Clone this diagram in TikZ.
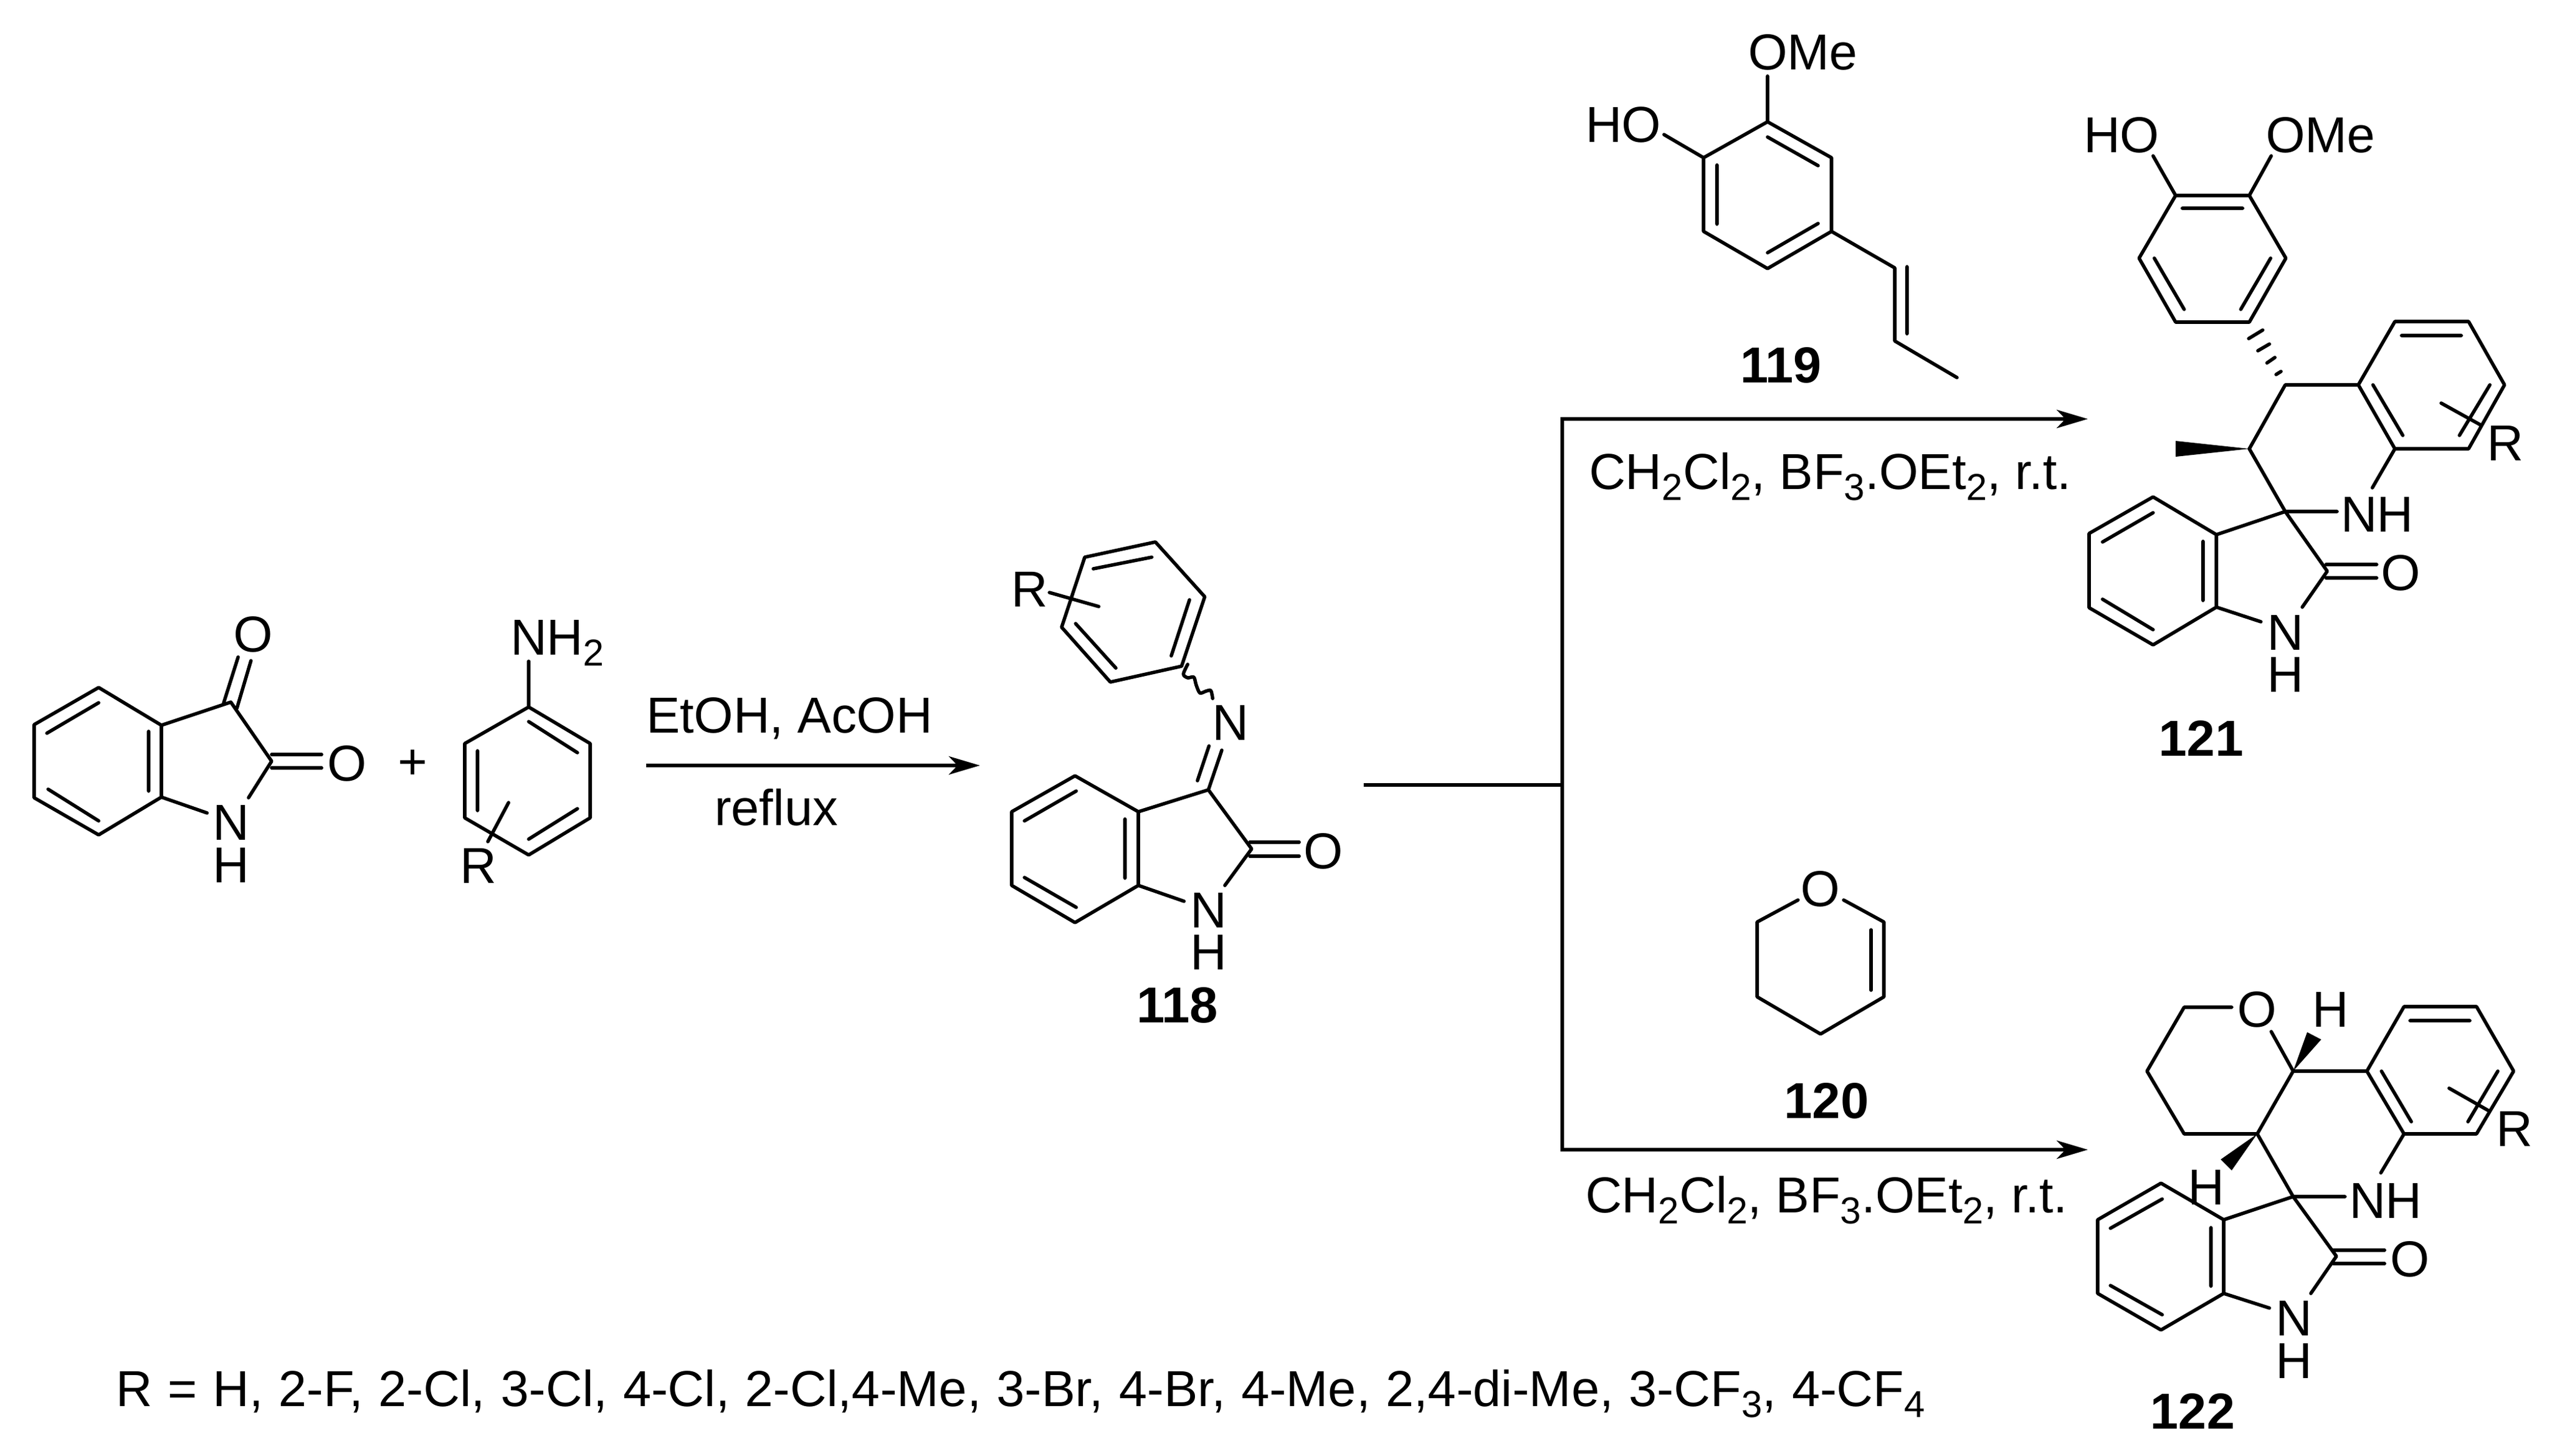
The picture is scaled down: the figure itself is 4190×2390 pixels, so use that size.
\documentclass[tikz,border=0pt]{standalone}
\usepackage{fontspec}
\setmainfont{Liberation Sans}
\usetikzlibrary{arrows.meta}
\newcommand{\chsub}[1]{\raisebox{-5.3pt}{\fontsize{17.5}{20}\selectfont #1}}
\tikzset{
  bond/.style={line width=1.6pt,line cap=round,line join=round},
  rxnline/.style={line width=1.9pt},
  rxnarrow/.style={line width=1.9pt,-{Stealth[length=14.5pt,width=8.5pt,inset=4pt]}},
  atom/.style={inner sep=0pt,outer sep=0pt,font=\fontsize{23.6}{28}\selectfont},
  txt/.style={atom,anchor=base west},
  cmpd/.style={inner sep=0pt,outer sep=0pt,font=\fontsize{23.6}{28}\selectfont\bfseries},
  wedge/.style={fill=black,draw=none}
}
\begin{document}
\begin{tikzpicture}[x=0.01cm,y=-0.01cm]
\useasboundingbox (0,0) rectangle (4190,2390);
% --- isatin
\draw[bond] (162,1129)--(56,1190)--(56,1310)--(162,1371)--(265,1309)--(265,1191)--cycle;
\draw[bond] (265,1191)--(379,1153)--(446,1250)--(408,1310);
\draw[bond] (265,1309)--(340,1335);
\draw[bond] (244,1201)--(244,1299) (77,1204)--(162,1154) (79,1296)--(162,1348);
\draw[bond] (367,1155)--(391,1079) (389,1163)--(412,1085);
\draw[bond] (446,1239)--(528,1239) (446,1261)--(528,1261);
\node[atom] (isO1) at (416,1042) {O};
\node[atom] (isO2) at (570,1254) {O};
\node[atom] (isN) at (379,1351) {N};
\node[atom] (isH) at (379,1421) {H};
\node[atom] (plus) at (678,1256) {+};
% --- aniline
\draw[bond] (868,1161)--(969,1221)--(969,1343)--(868,1404)--(763,1343)--(763,1221)--cycle;
\draw[bond] (868,1086)--(868,1161);
\draw[bond] (868,1185)--(948,1236) (784,1233)--(784,1331) (868,1378)--(948,1328);
\draw[bond] (835,1318)--(801,1382);
\node[txt] (anNH) at (838,1075) {NH\chsub{2}};
\node[txt] (anR) at (755,1450) {R};
% --- first arrow
\coordinate (a1s) at (1061,1257);
\coordinate (a1e) at (1609,1257);
\draw[rxnarrow] (a1s)--(a1e);
\node[txt] (etoh) at (1061,1203) {EtOH, AcOH};
\node[txt] (reflux) at (1173,1355) {reflux};
% --- 118
\draw[bond] (1897,890)--(1978,980)--(1940,1094)--(1823,1120)--(1743,1030)--(1781,915)--cycle;
\draw[bond] (1795,934)--(1891,915) (1953,985)--(1923,1077) (1832,1097)--(1766,1024);
\draw[bond] (1723,973)--(1804,996);
\draw[bond] plot[smooth] coordinates {(1950,1091) (1943,1107) (1950,1113) (1960,1112) (1964,1125) (1970,1138) (1980,1135) (1988,1134) (1991,1147)};
\draw[bond] (2006,1232)--(1984,1297) (1985,1225)--(1966,1282);
\draw[bond] (1765,1274)--(1661,1333)--(1661,1454)--(1765,1515)--(1869,1454)--(1869,1333)--cycle;
\draw[bond] (1869,1333)--(1984,1297)--(2055,1394)--(2011,1454);
\draw[bond] (1869,1454)--(1944,1480);
\draw[bond] (1847,1345)--(1847,1442) (1682,1348)--(1767,1299) (1682,1441)--(1767,1490);
\draw[bond] (2052,1383)--(2133,1383) (2052,1406)--(2133,1406);
\node[atom] (iR) at (1690,968) {R};
\node[atom] (iNi) at (2020,1187) {N};
\node[atom] (iO) at (2173,1398) {O};
\node[atom] (iN) at (1984,1495) {N};
\node[atom] (iH) at (1984,1564) {H};
\node[cmpd] (c118) at (1933,1651) {118};
% --- branch arrows
\coordinate (bs) at (2239,1289);
\coordinate (bj) at (2565,1289);
\coordinate (bt) at (2565,688);
\coordinate (bb) at (2565,1888);
\coordinate (bte) at (3428,688);
\coordinate (bbe) at (3428,1888);
\draw[rxnline] (bs)--(bj);
\draw[rxnarrow] (bj)--(bt)--(bte);
\draw[rxnarrow] (bj)--(bb)--(bbe);
\node[txt] (cond1) at (2609,803) {CH\chsub{2}Cl\chsub{2}, BF\chsub{3}.OEt\chsub{2}, r.t.};
\node[txt] (cond2) at (2603,1991) {CH\chsub{2}Cl\chsub{2}, BF\chsub{3}.OEt\chsub{2}, r.t.};
% --- 119
\draw[bond] (2902,200)--(3007,259)--(3007,380)--(2902,441)--(2797,380)--(2797,259)--cycle;
\draw[bond] (2902,125)--(2902,200) (2732,221)--(2797,259);
\draw[bond] (2902,225)--(2985,272) (2819,271)--(2819,368) (2902,415)--(2985,367);
\draw[bond] (3007,380)--(3111,440)--(3111,560)--(3213,620) (3131,438)--(3131,548);
\node[txt] (vOMe) at (2870,114) {OMe};
\node[txt] (vHO) at (2603,233) {HO};
\node[cmpd] (c119) at (2924,600) {119};
% --- 120
\draw[bond] (2952,1478)--(2885,1514)--(2885,1637)--(2989,1698)--(3093,1637)--(3093,1514)--(3027,1478);
\draw[bond] (3072,1527)--(3072,1626);
\node[atom] (dO) at (2989,1460) {O};
\node[cmpd] (c120) at (2999,1808) {120};
% --- 121
\draw[bond] (3572,321)--(3693,321)--(3753,424)--(3693,529)--(3572,529)--(3512,424)--cycle;
\draw[bond] (3535,256)--(3572,321) (3729,256)--(3693,321);
\draw[bond] (3583,342)--(3682,342) (3537,424)--(3586,508) (3728,424)--(3679,508);
\draw[bond] (3692,556)--(3715,542) (3707,576)--(3726,565) (3722,596)--(3735,587) (3737,615)--(3745,610);
\draw[bond] (3693,737)--(3752,632)--(3872,632);
\draw[bond] (3872,632)--(3932,528)--(4053,528)--(4112,632)--(4053,737)--(3932,737)--cycle;
\draw[bond] (3943,551)--(4041,551) (3896,632)--(3945,715) (4088,632)--(4038,715);
\draw[bond] (4008,662)--(4073,698);
\fill[wedge] (3693,737)--(3572,724)--(3572,750)--cycle;
\draw[bond] (3693,737)--(3752,840)--(3821,938)--(3780,997);
\draw[bond] (3932,737)--(3895,801) (3752,840)--(3837,840);
\draw[bond] (3535,816)--(3430,876)--(3430,998)--(3535,1059)--(3639,997)--(3639,878)--cycle;
\draw[bond] (3639,878)--(3752,840) (3639,997)--(3712,1021);
\draw[bond] (3617,889)--(3617,986) (3452,890)--(3535,842) (3452,984)--(3535,1034);
\draw[bond] (3819,927)--(3902,927) (3819,949)--(3902,949);
\node[txt] (pHO) at (3421,250) {HO};
\node[txt] (pOMe) at (3720,250) {OMe};
\node[txt] (pR) at (4083,756) {R};
\node[txt] (pNH) at (3843,873) {NH};
\node[atom] (pO) at (3942,941) {O};
\node[atom] (pN) at (3752,1039) {N};
\node[atom] (pH) at (3752,1108) {H};
\node[cmpd] (c121) at (3614,1213) {121};
% --- 122
\draw[bond] (3664,1654)--(3586,1654)--(3525,1759)--(3586,1862)--(3706,1862)--(3765,1759)--(3729,1694);
\draw[bond] (3765,1759)--(3886,1759);
\draw[bond] (3886,1759)--(3947,1653)--(4066,1653)--(4127,1759)--(4066,1862)--(3947,1862)--cycle;
\draw[bond] (3957,1676)--(4055,1676) (3910,1759)--(3959,1842) (4101,1759)--(4052,1842);
\draw[bond] (4021,1787)--(4086,1824);
\fill[wedge] (3765,1759)--(3788,1695)--(3811,1707)--cycle;
\fill[wedge] (3706,1862)--(3646,1904)--(3664,1922)--cycle;
\draw[bond] (3706,1862)--(3765,1965)--(3836,2063)--(3794,2124);
\draw[bond] (3947,1862)--(3909,1926) (3765,1965)--(3850,1965);
\draw[bond] (3548,1943)--(3444,2003)--(3444,2124)--(3548,2184)--(3651,2124)--(3651,2003)--cycle;
\draw[bond] (3651,2003)--(3765,1965) (3651,2124)--(3726,2148);
\draw[bond] (3630,2016)--(3630,2112) (3465,2017)--(3550,1969) (3465,2111)--(3550,2159);
\draw[bond] (3831,2053)--(3915,2053) (3831,2075)--(3915,2075);
\node[atom] (qO1) at (3706,1658) {O};
\node[atom] (qH1) at (3826,1658) {H};
\node[atom] (qH2) at (3622,1950) {H};
\node[txt] (qR) at (4098,1882) {R};
\node[txt] (qNH) at (3857,2000) {NH};
\node[atom] (qO2) at (3957,2068) {O};
\node[atom] (qN) at (3766,2165) {N};
\node[atom] (qH3) at (3766,2235) {H};
\node[cmpd] (c122) at (3600,2317) {122};
% --- substituents
\node[txt] (rlist) at (190,2309) {\spaceskip=7.25pt R = H, 2-F, 2-Cl, 3-Cl, 4-Cl, 2-Cl,4-Me, 3-Br, 4-Br, 4-Me, 2,4-di-Me, 3-CF\chsub{3}, 4-CF\chsub{4}};
\end{tikzpicture}
\end{document}
